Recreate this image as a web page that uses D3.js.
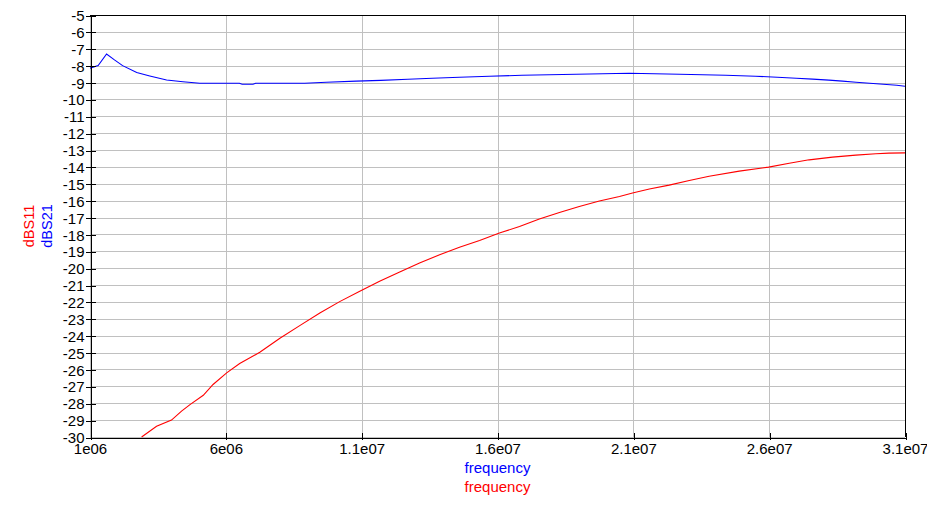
<!DOCTYPE html>
<html>
<head>
<meta charset="utf-8">
<script src="https://cdn.jsdelivr.net/npm/d3@7"></script>
<style>
  html, body { margin: 0; padding: 0; background: #fff; }
  svg { display: block; }
  text { font-family: "Liberation Sans", Arial, sans-serif; }
</style>
</head>
<body>
<svg id="chart" width="927" height="527"></svg>
<script>
// ---- data (frequency in Hz, magnitude in dB) ----
const s21Freq = [1.0e6,1.3e6,1.61e6,1.9e6,2.2e6,2.72e6,3.2e6,3.82e6,4.42e6,5.04e6,6.5e6,6.6e6,7.0e6,7.1e6,8.9e6,9.7e6,10.8e6,11.7e6,12.7e6,13.6e6,14.6e6,15.7e6,16.9e6,18.9e6,20.85e6,22.7e6,24.4e6,25.5e6,26.3e6,27.0e6,27.6e6,28.2e6,28.7e6,29.2e6,29.7e6,30.2e6,30.7e6,31.0e6];
const s21dB = [-8.15,-8.0,-7.31,-7.66,-8.0,-8.41,-8.61,-8.85,-8.95,-9.04,-9.04,-9.1,-9.1,-9.04,-9.04,-8.98,-8.92,-8.87,-8.81,-8.75,-8.69,-8.63,-8.57,-8.51,-8.45,-8.51,-8.57,-8.63,-8.69,-8.75,-8.80,-8.86,-8.92,-8.98,-9.04,-9.10,-9.16,-9.22];

const s11Freq = [2.9e6,3.45e6,4.0e6,4.37e6,4.68e6,5.17e6,5.53e6,6.03e6,6.51e6,7.25e6,7.99e6,8.72e6,9.46e6,10.19e6,10.93e6,11.66e6,12.40e6,13.13e6,13.87e6,14.60e6,15.34e6,16.07e6,16.81e6,17.54e6,18.28e6,19.01e6,19.75e6,20.49e6,20.97e6,21.59e6,22.32e6,23.06e6,23.79e6,24.9e6,25.98e6,26.74e6,27.47e6,28.33e6,29.19e6,29.93e6,30.41e6,31.0e6];
const s11dB = [-30,-29.36,-29.0,-28.47,-28.08,-27.53,-26.89,-26.2,-25.65,-24.98,-24.15,-23.40,-22.65,-21.98,-21.37,-20.78,-20.23,-19.69,-19.20,-18.76,-18.36,-17.92,-17.53,-17.09,-16.70,-16.34,-16.02,-15.75,-15.55,-15.31,-15.08,-14.80,-14.55,-14.25,-14.01,-13.78,-13.58,-13.42,-13.30,-13.22,-13.18,-13.17];

const xTickValues = [1e6, 6e6, 1.1e7, 1.6e7, 2.1e7, 2.6e7, 3.1e7];
const xTickLabels = ["1e06", "6e06", "1.1e07", "1.6e07", "2.1e07", "2.6e07", "3.1e07"];
const yTickValues = d3.range(-30, -4, 1);

const seriesNames = ["dBS11", "dBS21"];
const seriesColors = ["#ff0000", "#0000ff"];
const xLabel = "frequency";

// ---- layout ----
const L = 90, R = 905, T = 15, B = 437;
const svg = d3.select("#chart");

const x = d3.scaleLinear().domain([1e6, 3.1e7]).range([L, R]);
const y = d3.scaleLinear().domain([-30, -5]).range([B, T]);

// grid
const grid = svg.append("g").attr("shape-rendering", "crispEdges").attr("stroke", "#c0c0c0").attr("stroke-width", 1);
grid.selectAll("line.h").data(yTickValues).enter().append("line")
  .attr("x1", L).attr("x2", R).attr("y1", d => Math.round(y(d)) + 0.5).attr("y2", d => Math.round(y(d)) + 0.5);
grid.selectAll("line.v").data(xTickValues).enter().append("line")
  .attr("y1", T).attr("y2", B).attr("x1", d => Math.round(x(d)) + 0.5).attr("x2", d => Math.round(x(d)) + 0.5);

// clip
svg.append("clipPath").attr("id", "plotclip").append("rect")
  .attr("x", L).attr("y", T).attr("width", R - L).attr("height", B - T + 1);

const line = d3.line().x(d => x(d[0])).y(d => y(d[1]));

const s11 = s11Freq.map((f, i) => [f, s11dB[i]]);
const s21 = s21Freq.map((f, i) => [f, s21dB[i]]);

svg.append("path").datum(s11).attr("d", line).attr("fill", "none")
  .attr("stroke", seriesColors[0]).attr("stroke-width", 1.1).attr("clip-path", "url(#plotclip)");
svg.append("path").datum(s21).attr("d", line).attr("fill", "none")
  .attr("stroke", seriesColors[1]).attr("stroke-width", 1.1).attr("clip-path", "url(#plotclip)");

// border (top and right)
const frame = svg.append("g").attr("shape-rendering", "crispEdges").attr("stroke", "#000").attr("stroke-width", 1);
frame.append("line").attr("x1", L).attr("x2", R + 1).attr("y1", T + 0.5).attr("y2", T + 0.5);
frame.append("line").attr("x1", R + 0.5).attr("x2", R + 0.5).attr("y1", T).attr("y2", B);

// y axis
const yAxis = d3.axisLeft(y).tickValues(yTickValues).tickSize(0).tickFormat(d3.format("d"));
const gy = svg.append("g").attr("transform", `translate(${L + 0.5},0)`).call(yAxis);
gy.select(".domain").attr("stroke", "#000").attr("shape-rendering", "crispEdges");
gy.selectAll(".tick line").remove();
gy.selectAll(".tick").append("line")
  .attr("x1", -5).attr("x2", 5).attr("y1", 0.5).attr("y2", 0.5)
  .attr("stroke", "#000").attr("shape-rendering", "crispEdges");
gy.selectAll(".tick text")
  .attr("x", -6).attr("dy", "0.37em")
  .attr("font-size", 15).attr("font-family", "'Liberation Sans', Arial, sans-serif")
  .attr("fill", "#000").text(d => d < 0 ? "-" + Math.abs(d) : d);

// x axis
const xAxis = d3.axisBottom(x).tickValues(xTickValues).tickSize(0)
  .tickFormat((d, i) => xTickLabels[i]);
const gx = svg.append("g").attr("transform", `translate(0,${B + 0.5})`).call(xAxis);
gx.select(".domain").attr("stroke", "#000").attr("shape-rendering", "crispEdges");
gx.selectAll(".tick line").remove();
gx.selectAll(".tick").append("line")
  .attr("x1", 0.5).attr("x2", 0.5).attr("y1", -5).attr("y2", 2)
  .attr("stroke", "#000").attr("shape-rendering", "crispEdges");
gx.selectAll(".tick text")
  .attr("y", 16).attr("dy", "0")
  .attr("font-size", 15).attr("font-family", "'Liberation Sans', Arial, sans-serif")
  .attr("fill", "#000");

// axis titles
svg.append("text").attr("x", (L + R) / 2).attr("y", 473).attr("text-anchor", "middle")
  .attr("font-size", 15).attr("fill", seriesColors[1]).text(xLabel);
svg.append("text").attr("x", (L + R) / 2).attr("y", 492).attr("text-anchor", "middle")
  .attr("font-size", 15).attr("fill", seriesColors[0]).text(xLabel);

svg.append("text").attr("transform", `translate(29,${(T + B) / 2}) rotate(-90)`)
  .attr("text-anchor", "middle").attr("dy", "0.35em")
  .attr("font-size", 14.5).attr("fill", seriesColors[0]).text(seriesNames[0]);
svg.append("text").attr("transform", `translate(47,${(T + B) / 2}) rotate(-90)`)
  .attr("text-anchor", "middle").attr("dy", "0.35em")
  .attr("font-size", 14.5).attr("fill", seriesColors[1]).text(seriesNames[1]);
</script>
</body>
</html>
